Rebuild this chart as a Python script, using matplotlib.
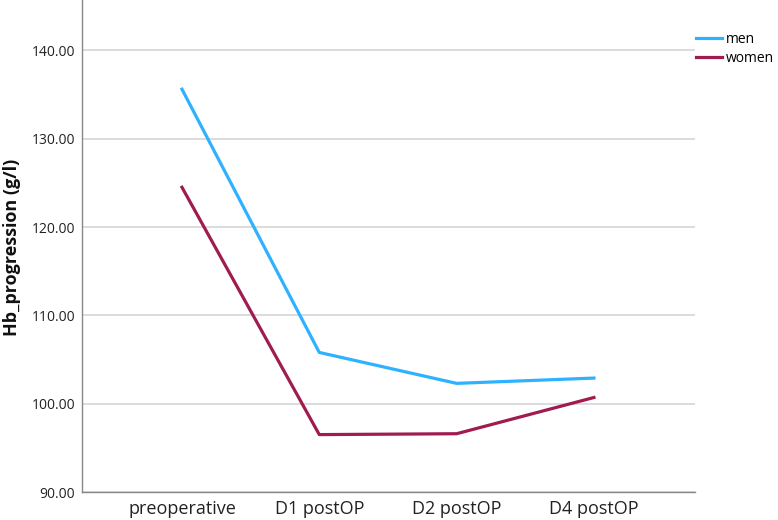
import matplotlib.pyplot as plt

plt.rcParams['font.family'] = ['Open Sans', 'DejaVu Sans']

timepoints = ["preoperative", "D1 postOP", "D2 postOP", "D4 postOP"]
men = [135.6, 105.8, 102.3, 102.9]
women = [124.5, 96.5, 96.6, 100.7]
yticks = [90, 100, 110, 120, 130, 140]

fig = plt.figure(figsize=(7.78, 5.2), dpi=100)
ax = fig.add_axes([0.1054, 0.0538, 0.7879, 0.9462])

x = range(len(timepoints))
ax.plot(x, men, color="#2EB2FF", lw=2.3, label="men")
ax.plot(x, women, color="#A01C50", lw=2.3, label="women")

ax.set_xlim(-0.728, 3.736)
ax.set_ylim(90, 145.7)
ax.set_yticks(yticks)
ax.set_yticklabels([f"{v:.2f}" for v in yticks], fontsize=10, color="#222222")
ax.set_xticks(list(x))
ax.set_xticklabels(timepoints, fontsize=13, color="#222222")
ax.tick_params(length=0, axis="both")
ax.tick_params(axis="y", pad=5)
ax.tick_params(axis="x", pad=6)

ax.grid(axis="y", color="#D6D6D6", lw=1.2)
ax.set_axisbelow(True)
for s in ["top", "right"]:
    ax.spines[s].set_visible(False)
for s in ["left", "bottom"]:
    ax.spines[s].set_color("#888888")
    ax.spines[s].set_linewidth(1.0)

# y label placed in figure coords so it stays inside the canvas
fig.text(0.016, 0.525, "Hb_progression (g/l)", rotation=90, fontsize=13,
         fontweight="bold", ha="center", va="center", color="#111111")

fig.legend(loc="upper left", bbox_to_anchor=(0.895, 0.939), frameon=False,
           fontsize=10, handlelength=1.85, handletextpad=0.3, labelspacing=0.3,
           borderpad=0, borderaxespad=0)

fig.savefig("out.png", dpi=100)
